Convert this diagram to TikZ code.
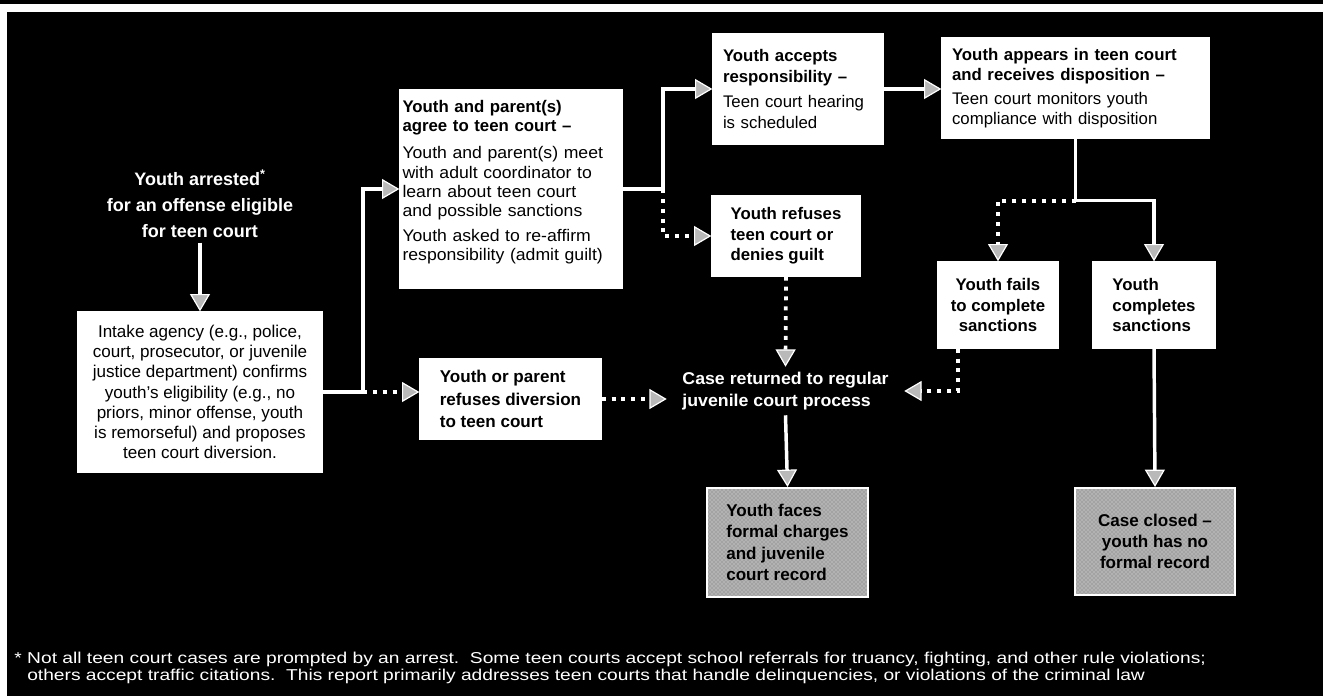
\documentclass[tikz,border=0pt]{standalone}
\usepackage{fontspec}
\setmainfont{Liberation Sans}
\newfontfamily\cwide[FakeStretch=1.05]{Liberation Sans}
\newfontfamily\footwide[FakeStretch=1.22]{Liberation Sans}
\newfontfamily\jwide[FakeStretch=1.04]{Liberation Sans}
\usetikzlibrary{arrows.meta,calc,patterns}
\begin{document}
\begin{tikzpicture}[x=0.75pt,y=-0.75pt,
  bx/.style={draw=white, line width=1pt, fill=white, text=black, inner sep=0pt,
             font=\fontsize{12.8}{15}\selectfont},
  gbx/.style={draw=white, line width=1.6pt, preaction={fill=gray!60},
              pattern=crosshatch dots, pattern color=black!55, text=black, inner sep=0pt,
              font=\bfseries\fontsize{12.8}{16}\selectfont},
  tip/.style={-{Triangle[length=13pt,width=15pt,fill=gray!55,line width=0.9pt]}},
  sl/.style={draw=white, line width=2.6pt, tip},
  dt/.style={draw=white, line width=2.8pt, dash pattern=on 3pt off 4.4pt, tip},
  sln/.style={draw=white, line width=2.6pt}
]
\fill[black] (0,0) rectangle (1323,696);
\useasboundingbox (0,0) rectangle (1323,696);
% frame remnants
\fill[white] (0,4) rectangle (1323,12);
\fill[white] (0,4) rectangle (7,696);

% nodes
\node[text=white, align=center, font=\bfseries\fontsize{13.5}{19.5}\selectfont]
  (A) at (200,204) {Youth arrested\textsuperscript{*}\\for an offense eligible\\for teen court};

\node[bx, minimum width=244*0.75pt, minimum height=160*0.75pt, align=center,
      font=\fontsize{12.8}{15.2}\selectfont]
  (B) at (200,392) {Intake agency (e.g., police,\\court, prosecutor, or juvenile\\justice department) confirms\\youth's eligibility (e.g., no\\priors, minor offense, youth\\is remorseful) and proposes\\teen court diversion.};

\node[bx, text width=217*0.75pt, inner xsep=2.5*0.75pt, minimum height=198*0.75pt, align=left,
      font=\fontsize{12.6}{14.3}\selectfont]
  (C) at (511,189) {\textbf{Youth and parent(s)}\\\textbf{agree to teen court --}\\[6pt]{\cwide Youth and parent(s) meet}\\{\cwide with adult coordinator to}\\{\cwide learn about teen court}\\{\cwide and possible sanctions}\\[5pt]{\cwide Youth asked to re-affirm}\\{\cwide responsibility (admit guilt)}\\[-2pt]\mbox{}};

\node[bx, text width=150*0.75pt, inner xsep=10*0.75pt, minimum height=110*0.75pt, align=left,
      font=\fontsize{12.6}{15.3}\selectfont]
  (D) at (798,89) {\textbf{Youth accepts}\\\textbf{responsibility --}\\[4pt]Teen court hearing\\is scheduled};

\node[bx, text width=247*0.75pt, inner xsep=10*0.75pt, minimum height=100*0.75pt, align=left,
      font=\fontsize{12.6}{14.5}\selectfont]
  (E) at (1075.5,88) {\textbf{Youth appears in teen court}\\\textbf{and receives disposition --}\\[4pt]Teen court monitors youth\\compliance with disposition};

\node[bx, minimum width=148*0.75pt, minimum height=80*0.75pt, align=left,
      font=\bfseries\fontsize{12.6}{15.5}\selectfont]
  (F) at (786,236) {Youth refuses\\teen court or\\denies guilt};

\node[bx, minimum width=120*0.75pt, minimum height=86*0.75pt, align=center,
      font=\bfseries\fontsize{12.6}{15.5}\selectfont]
  (G) at (998,305) {Youth fails\\to complete\\sanctions};

\node[bx, minimum width=122*0.75pt, minimum height=86*0.75pt, align=left,
      font=\bfseries\fontsize{12.6}{15.5}\selectfont]
  (H) at (1154,305) {Youth\\completes\\sanctions};

\node[bx, minimum width=181*0.75pt, minimum height=80*0.75pt, align=left,
      font=\bfseries\fontsize{12.8}{17}\selectfont]
  (I) at (510.5,399) {Youth or parent\\refuses diversion\\to teen court};

\node[text=white, minimum width=237*0.75pt, minimum height=48*0.75pt, inner sep=0pt, align=left,
      font=\jwide\bfseries\fontsize{12.8}{16}\selectfont]
  (J) at (785.5,391) {Case returned to regular\\juvenile court process};

\node[gbx, minimum width=161*0.75pt, minimum height=109*0.75pt, align=left]
  (K) at (787.5,542.5) {Youth faces\\formal charges\\and juvenile\\court record};

\node[gbx, minimum width=160*0.75pt, minimum height=107*0.75pt, align=center]
  (L) at (1155,541.5) {Case closed --\\youth has no\\formal record};

% junctions
\coordinate (jB) at (363,392);
\coordinate (jC) at (663,189);
\coordinate (jE) at ($(E.south)+(0,62)$);
\coordinate (gOut) at ($(G.south)+(-40,0)$);

% connectors
\draw[sl] (A.south) -- (B.north);
\draw[sln] (B.east) -- (jB);
\draw[sl] (jB) |- (C.west);
\draw[dt] (jB) -- (jB -| I.west);
\draw[sln] (C.east) -- (jC);
\draw[sl] (jC) |- (D.west);
\draw[dt] (jC) |- (F.west);
\draw[sl] (D.east) -- (D.east -| E.west);
\draw[sln] (E.south) -- (jE);
\draw[sl] (jE) -| (H.north);
\draw[dt] (jE) -| (G.north);
\draw[dt] (F.south) -- (J.north);
\draw[dt] (I.east) -- (I.east -| J.west);
\draw[dt] (gOut) |- (J.east);
\draw[sl] (J.south) -- (K.north);
\draw[sl] (H.south) -- (L.north);

% footnote
\node[anchor=north west, text=white, align=left, inner sep=0pt,
      font=\footwide\fontsize{11.8}{12.8}\selectfont]
  (N) at (27,652) {\llap{* }Not all teen court cases are prompted by an arrest.\ \ Some teen courts accept school referrals for truancy, fighting, and other rule violations;\\others accept traffic citations.\ \ This report primarily addresses teen courts that handle delinquencies, or violations of the criminal law};
\end{tikzpicture}
\end{document}
